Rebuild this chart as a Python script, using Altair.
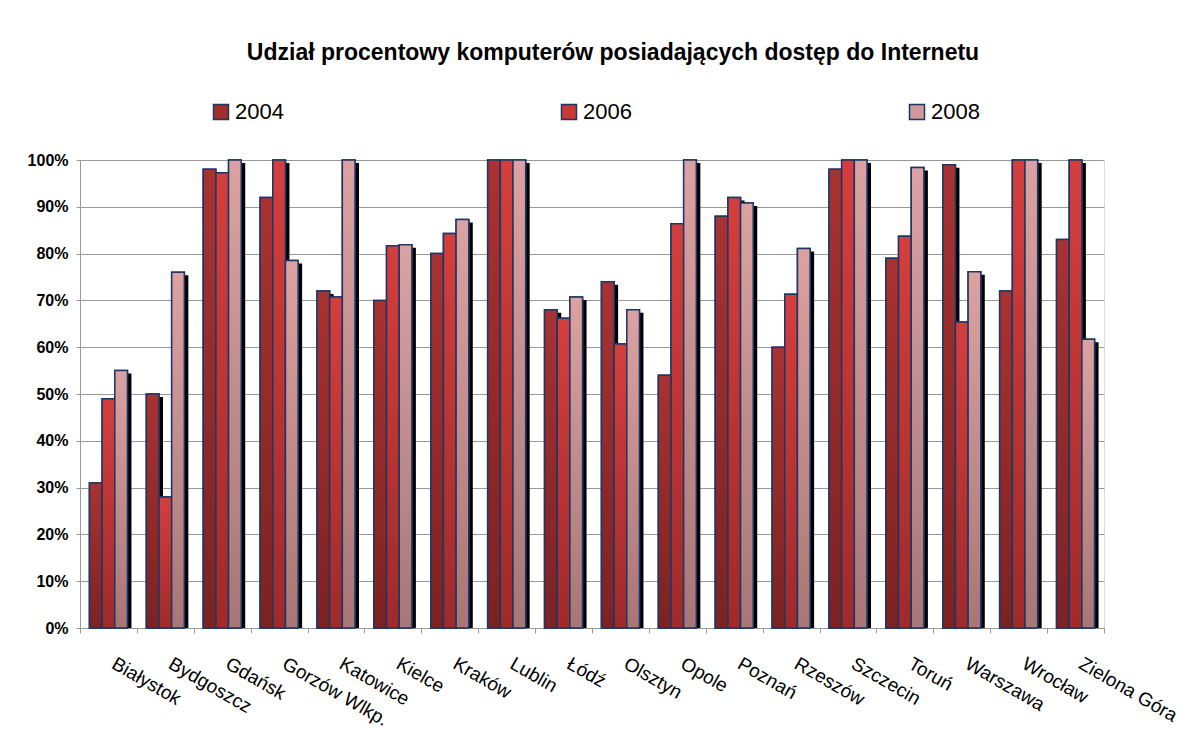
import altair as alt
import pandas as pd

cities = ["Białystok", "Bydgoszcz", "Gdańsk", "Gorzów Wlkp.", "Katowice", "Kielce",
          "Kraków", "Lublin", "Łódź", "Olsztyn", "Opole", "Poznań", "Rzeszów",
          "Szczecin", "Toruń", "Warszawa", "Wrocław", "Zielona Góra"]
years = ["2004", "2006", "2008"]
v2004 = [31, 50, 98, 92, 72, 70, 80, 100, 68, 74, 54, 88, 60, 98, 79, 99, 72, 83]
v2006 = [49, 28, 97.3, 100, 70.7, 81.7, 84.3, 100, 66.2, 60.7, 86.4, 92, 71.3, 100, 83.7, 65.4, 100, 100]
v2008 = [55, 76, 100, 78.5, 100, 81.9, 87.3, 100, 70.7, 68, 100, 90.8, 81.1, 100, 98.4, 76.1, 100, 61.7]
y_ticks = [0, 10, 20, 30, 40, 50, 60, 70, 80, 90, 100]

solid_colors = ["#a02c2c", "#c83a38", "#d09898"]
gradients = {
    "2004": ("#a93232", "#7c2222"),
    "2006": ("#d43f3d", "#a02a2a"),
    "2008": ("#dca2a2", "#a87676"),
}
edge = "#1c3766"

rows = []
for y, vals in zip(years, [v2004, v2006, v2008]):
    for c, v in zip(cities, vals):
        rows.append({"city": c, "year": y, "value": v})
df = pd.DataFrame(rows)

FONT = "Liberation Sans"

x_enc = alt.X("city:N", sort=cities,
              scale=alt.Scale(paddingInner=0, paddingOuter=0),
              axis=alt.Axis(title=None, labelAngle=30, labelAlign="left", labelBaseline="top",
                            labelOffset=9, labelPadding=21, tickBand="extent", tickSize=5,
                            tickColor="#999999", domainColor="#999999", grid=False,
                            labelFontSize=19, labelColor="black", labelFont=FONT))
y_enc = alt.Y("value:Q", scale=alt.Scale(domain=[0, 100], nice=False),
              axis=alt.Axis(title=None, values=y_ticks, labelExpr="datum.value + '%'",
                            labelFontSize=16, labelFontWeight="bold", labelColor="black",
                            labelFont=FONT, tickSize=4, labelPadding=8,
                            tickColor="#999999", domainColor="#999999",
                            gridColor="#999999", gridWidth=1))

base = alt.Chart(df).encode(
    x=x_enc,
    xOffset=alt.XOffset("year:N", sort=years,
                        scale=alt.Scale(domain=years, paddingInner=0, paddingOuter=0.745)),
    y=y_enc,
)

shadow = alt.Chart(df).mark_bar(color="black", yOffset=3).encode(
    x=x_enc,
    xOffset=alt.XOffset("year:N", sort=years,
                        scale=alt.Scale(domain=years, paddingInner=0, paddingOuter=0.745,
                                        align=0.712)),
    y=y_enc,
    y2=alt.datum(0),
)

solid = base.mark_bar(stroke=edge, strokeWidth=1.5).encode(
    color=alt.Color("year:N", scale=alt.Scale(domain=years, range=solid_colors),
                    legend=alt.Legend(title=None, orient="none", legendX=130, legendY=-59,
                                      direction="horizontal", columns=3, columnPadding=274,
                                      symbolType="square", symbolSize=225, labelOffset=3,
                                      labelFontSize=22, labelFont=FONT, labelColor="black",
                                      symbolStrokeColor=edge, symbolStrokeWidth=1.5,
                                      padding=0))
)

grad_layers = []
for y in years:
    top, bottom = gradients[y]
    grad_layers.append(
        base.transform_filter(alt.datum.year == y).mark_bar(
            stroke=edge, strokeWidth=1.5,
            fill=alt.Gradient(gradient="linear", x1=0, y1=0, x2=0, y2=1,
                              stops=[alt.GradientStop(color=top, offset=0),
                                     alt.GradientStop(color=bottom, offset=1)]))
    )

bars = alt.layer(solid, *grad_layers)

chart = alt.layer(shadow, bars).resolve_scale(xOffset="independent").properties(
    width=1024, height=468,
    title=alt.Title("Udział procentowy komputerów posiadających dostęp do Internetu",
                    fontSize=23, font=FONT, fontWeight="bold", color="black",
                    anchor="middle", dx=21, offset=36),
    padding={"left": 72, "top": 152, "right": 81, "bottom": 102},
    autosize=alt.AutoSizeParams(type="none"),
).configure_view(strokeWidth=0).configure(font=FONT)

chart.save("out.html", embed_options={"renderer": "svg", "actions": False})
